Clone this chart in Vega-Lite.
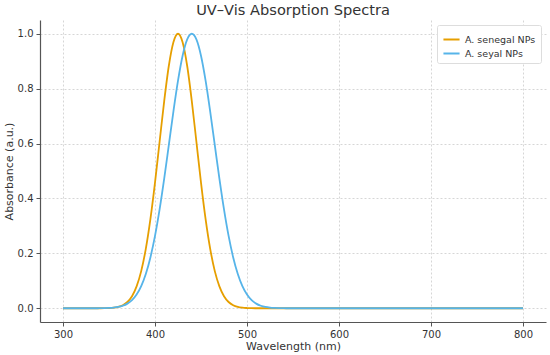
{
  "$schema": "https://vega.github.io/schema/vega-lite/v6.json",
  "autosize": {"type": "none"},
  "width": 506,
  "height": 302,
  "padding": {"left": 40, "top": 20, "right": 4, "bottom": 33},
  "background": "white",
  "title": {"text": "UV–Vis Absorption Spectra", "font": "DejaVu Sans", "fontSize": 14.6, "fontWeight": "normal", "color": "#333333", "offset": 2},
  "config": {
    "view": {"stroke": null},
    "font": "DejaVu Sans"
  },
  "data": {"values": [
    {"w": 300, "a": 0, "s": "A. senegal NPs"},
    {"w": 335, "a": 0, "s": "A. senegal NPs"},
    {"w": 340, "a": 0.0001, "s": "A. senegal NPs"},
    {"w": 345, "a": 0.0003, "s": "A. senegal NPs"},
    {"w": 350, "a": 0.0009, "s": "A. senegal NPs"},
    {"w": 355, "a": 0.0022, "s": "A. senegal NPs"},
    {"w": 360, "a": 0.0051, "s": "A. senegal NPs"},
    {"w": 365, "a": 0.0111, "s": "A. senegal NPs"},
    {"w": 370, "a": 0.0228, "s": "A. senegal NPs"},
    {"w": 375, "a": 0.0439, "s": "A. senegal NPs"},
    {"w": 380, "a": 0.0796, "s": "A. senegal NPs"},
    {"w": 385, "a": 0.1353, "s": "A. senegal NPs"},
    {"w": 390, "a": 0.2163, "s": "A. senegal NPs"},
    {"w": 395, "a": 0.3247, "s": "A. senegal NPs"},
    {"w": 400, "a": 0.4578, "s": "A. senegal NPs"},
    {"w": 405, "a": 0.6065, "s": "A. senegal NPs"},
    {"w": 410, "a": 0.7548, "s": "A. senegal NPs"},
    {"w": 415, "a": 0.8825, "s": "A. senegal NPs"},
    {"w": 420, "a": 0.969, "s": "A. senegal NPs"},
    {"w": 425, "a": 1.0, "s": "A. senegal NPs"},
    {"w": 430, "a": 0.969, "s": "A. senegal NPs"},
    {"w": 435, "a": 0.8825, "s": "A. senegal NPs"},
    {"w": 440, "a": 0.7548, "s": "A. senegal NPs"},
    {"w": 445, "a": 0.6065, "s": "A. senegal NPs"},
    {"w": 450, "a": 0.4578, "s": "A. senegal NPs"},
    {"w": 455, "a": 0.3247, "s": "A. senegal NPs"},
    {"w": 460, "a": 0.2163, "s": "A. senegal NPs"},
    {"w": 465, "a": 0.1353, "s": "A. senegal NPs"},
    {"w": 470, "a": 0.0796, "s": "A. senegal NPs"},
    {"w": 475, "a": 0.0439, "s": "A. senegal NPs"},
    {"w": 480, "a": 0.0228, "s": "A. senegal NPs"},
    {"w": 485, "a": 0.0111, "s": "A. senegal NPs"},
    {"w": 490, "a": 0.0051, "s": "A. senegal NPs"},
    {"w": 495, "a": 0.0022, "s": "A. senegal NPs"},
    {"w": 500, "a": 0.0009, "s": "A. senegal NPs"},
    {"w": 505, "a": 0.0003, "s": "A. senegal NPs"},
    {"w": 510, "a": 0.0001, "s": "A. senegal NPs"},
    {"w": 515, "a": 0, "s": "A. senegal NPs"},
    {"w": 800, "a": 0, "s": "A. senegal NPs"},
    {"w": 300, "a": 0, "s": "A. seyal NPs"},
    {"w": 330, "a": 0, "s": "A. seyal NPs"},
    {"w": 335, "a": 0.0001, "s": "A. seyal NPs"},
    {"w": 340, "a": 0.0002, "s": "A. seyal NPs"},
    {"w": 345, "a": 0.0005, "s": "A. seyal NPs"},
    {"w": 350, "a": 0.0012, "s": "A. seyal NPs"},
    {"w": 355, "a": 0.0024, "s": "A. seyal NPs"},
    {"w": 360, "a": 0.0048, "s": "A. seyal NPs"},
    {"w": 365, "a": 0.0092, "s": "A. seyal NPs"},
    {"w": 370, "a": 0.0169, "s": "A. seyal NPs"},
    {"w": 375, "a": 0.0296, "s": "A. seyal NPs"},
    {"w": 380, "a": 0.0498, "s": "A. seyal NPs"},
    {"w": 385, "a": 0.0804, "s": "A. seyal NPs"},
    {"w": 390, "a": 0.1245, "s": "A. seyal NPs"},
    {"w": 395, "a": 0.185, "s": "A. seyal NPs"},
    {"w": 400, "a": 0.2636, "s": "A. seyal NPs"},
    {"w": 405, "a": 0.3603, "s": "A. seyal NPs"},
    {"w": 410, "a": 0.4724, "s": "A. seyal NPs"},
    {"w": 415, "a": 0.5941, "s": "A. seyal NPs"},
    {"w": 420, "a": 0.7165, "s": "A. seyal NPs"},
    {"w": 425, "a": 0.829, "s": "A. seyal NPs"},
    {"w": 430, "a": 0.92, "s": "A. seyal NPs"},
    {"w": 435, "a": 0.9794, "s": "A. seyal NPs"},
    {"w": 440, "a": 1.0, "s": "A. seyal NPs"},
    {"w": 445, "a": 0.9794, "s": "A. seyal NPs"},
    {"w": 450, "a": 0.92, "s": "A. seyal NPs"},
    {"w": 455, "a": 0.829, "s": "A. seyal NPs"},
    {"w": 460, "a": 0.7165, "s": "A. seyal NPs"},
    {"w": 465, "a": 0.5941, "s": "A. seyal NPs"},
    {"w": 470, "a": 0.4724, "s": "A. seyal NPs"},
    {"w": 475, "a": 0.3603, "s": "A. seyal NPs"},
    {"w": 480, "a": 0.2636, "s": "A. seyal NPs"},
    {"w": 485, "a": 0.185, "s": "A. seyal NPs"},
    {"w": 490, "a": 0.1245, "s": "A. seyal NPs"},
    {"w": 495, "a": 0.0804, "s": "A. seyal NPs"},
    {"w": 500, "a": 0.0498, "s": "A. seyal NPs"},
    {"w": 505, "a": 0.0296, "s": "A. seyal NPs"},
    {"w": 510, "a": 0.0169, "s": "A. seyal NPs"},
    {"w": 515, "a": 0.0092, "s": "A. seyal NPs"},
    {"w": 520, "a": 0.0048, "s": "A. seyal NPs"},
    {"w": 525, "a": 0.0024, "s": "A. seyal NPs"},
    {"w": 530, "a": 0.0012, "s": "A. seyal NPs"},
    {"w": 535, "a": 0.0005, "s": "A. seyal NPs"},
    {"w": 540, "a": 0.0002, "s": "A. seyal NPs"},
    {"w": 545, "a": 0.0001, "s": "A. seyal NPs"},
    {"w": 550, "a": 0, "s": "A. seyal NPs"},
    {"w": 800, "a": 0, "s": "A. seyal NPs"}
  ]},
  "mark": {"type": "line", "strokeWidth": 1.8, "interpolate": "monotone"},
  "encoding": {
    "x": {
      "field": "w", "type": "quantitative",
      "scale": {"domain": [275, 825], "nice": false, "zero": false},
      "axis": {
        "title": "Wavelength (nm)", "values": [300, 400, 500, 600, 700, 800],
        "titleFont": "DejaVu Sans", "titleFontSize": 11, "titleFontWeight": "normal", "titleColor": "#333333", "titlePadding": 1,
        "labelFont": "DejaVu Sans", "labelFontSize": 10, "labelColor": "#333333", "labelPadding": 3,
        "domainColor": "#555555", "domainWidth": 1.2, "tickColor": "#555555", "tickSize": 4,
        "grid": true, "gridColor": "#cccccc", "gridDash": [2, 2], "gridWidth": 0.8
      }
    },
    "y": {
      "field": "a", "type": "quantitative",
      "scale": {"domain": [-0.05, 1.05], "nice": false, "zero": false},
      "axis": {
        "title": "Absorbance (a.u.)", "values": [0, 0.2, 0.4, 0.6, 0.8, 1.0], "format": ".1f",
        "titleFont": "DejaVu Sans", "titleFontSize": 11, "titleFontWeight": "normal", "titleColor": "#333333", "titlePadding": 3,
        "labelFont": "DejaVu Sans", "labelFontSize": 10, "labelColor": "#333333", "labelPadding": 3,
        "domainColor": "#555555", "domainWidth": 1.2, "tickColor": "#555555", "tickSize": 4,
        "grid": true, "gridColor": "#cccccc", "gridDash": [2, 2], "gridWidth": 0.8
      }
    },
    "color": {
      "field": "s", "type": "nominal",
      "scale": {"domain": ["A. senegal NPs", "A. seyal NPs"], "range": ["#E69F00", "#56B4E9"]},
      "legend": {
        "title": null, "orient": "top-right", "offset": 5,
        "symbolType": "stroke", "symbolStrokeWidth": 2, "symbolSize": 260,
        "labelFont": "DejaVu Sans", "labelFontSize": 9.5, "labelColor": "#333333",
        "strokeColor": "#dddddd", "fillColor": "white", "padding": 5, "cornerRadius": 2, "rowPadding": 0
      }
    }
  }
}
